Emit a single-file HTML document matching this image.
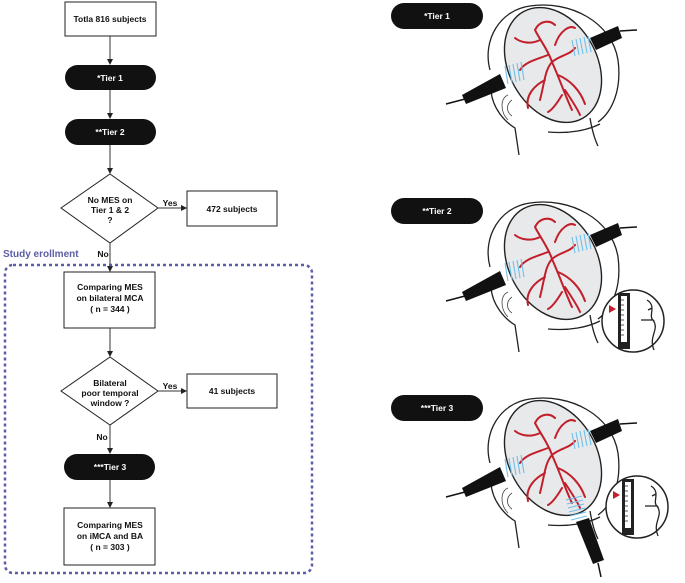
<!DOCTYPE html>
<html><head><meta charset="utf-8"><style>
body{margin:0;background:#fff}
svg text{font-family:"Liberation Sans",sans-serif;font-weight:bold}
</style></head><body>
<svg width="685" height="578" viewBox="0 0 685 578" xmlns="http://www.w3.org/2000/svg">
<defs>
<marker id="a" markerWidth="6" markerHeight="6" refX="5" refY="3" orient="auto"><path d="M0,0L6,3L0,6z" fill="#222"/></marker>
<g id="head">
 <path d="M490,70 C482,40 500,10 530,6 C570,0 612,22 618,60 C622,90 612,112 598,122" fill="none" stroke="#222" stroke-width="1.3"/>
 <path d="M491,90 C492,108 505,122 515,128 L519,155" fill="none" stroke="#222" stroke-width="1.3"/>
 <path d="M590,118 C592,130 594,138 598,146" fill="none" stroke="#222" stroke-width="1.3"/>
 <path d="M548,132 C570,134 588,130 600,124" fill="none" stroke="#222" stroke-width="1.3"/>
 <path d="M508,95 C500,98 500,112 508,120 M512,100 C506,104 506,112 512,116" fill="none" stroke="#444" stroke-width="0.8"/>
 <ellipse cx="553" cy="65" rx="44" ry="61" transform="rotate(-29 553 65)" fill="#e8e9eb" stroke="#222" stroke-width="1.4"/>
 <g fill="none" stroke="#c21f2a" stroke-width="2" stroke-linecap="round">
  <path d="M540,100 C545,80 545,70 552,62 C560,55 570,55 575,48 M552,62 C548,50 540,40 535,30 M552,62 C560,80 565,95 572,110 M545,80 C535,85 525,95 528,108 M558,75 C570,80 580,90 585,104 M540,40 C530,45 520,42 515,38 M555,45 C560,30 570,25 575,28 M535,30 C540,20 550,20 555,25 M548,55 C535,60 525,62 520,70 M565,90 C575,105 578,110 580,115 M562,95 C556,105 552,110 548,112"/>
 </g>
 <g fill="none" stroke="#6fc0ea" stroke-width="1.1">
  <path d="M505,66 l3,18 M509,65 l3,18 M513,64 l3,18 M517,63 l3,18 M521,62 l3,18"/>
  <path d="M572,40 l3,16 M576,39 l3,16 M580,38 l3,16 M584,37 l3,16 M588,36 l3,16"/>
 </g>
 <path d="M462,95 L500,74 L506,88 L466,104z" fill="#111"/>
 <path d="M590,38 L618,26 L622,38 L596,50z" fill="#111"/>
 <path d="M465,99 L446,104 M620,31 L637,30" stroke="#111" stroke-width="1.5" fill="none"/>
</g>
<g id="inset">
 <circle cx="633" cy="321" r="31" fill="#fff" stroke="#222" stroke-width="1.5"/>
 <rect x="618" y="293" width="12" height="56" fill="#222"/>
 <rect x="621" y="296" width="6" height="46" fill="#fff"/>
 <path d="M621,300h3M621,305h3M621,310h3M621,315h3M621,320h3M621,325h3M621,330h3M621,335h3" stroke="#222" stroke-width="0.7"/>
 <path d="M609,305 l7,4 l-7,4z" fill="#c21f2a"/>
 <path d="M647,300 C657,306 648,316 653,320 L641,320 M653,320 C660,330 648,336 654,350 M648,310 l4,-2" fill="none" stroke="#222" stroke-width="1.3"/>
</g>
</defs>

<g stroke="#222" stroke-width="1" fill="#fff">
 <rect x="65" y="2" width="91" height="34"/>
 <rect x="187" y="191" width="90" height="35"/>
 <rect x="64" y="272" width="91" height="56"/>
 <rect x="187" y="374" width="90" height="34"/>
 <rect x="64" y="508" width="91" height="57"/>
 <polygon points="110,174 158,208 110,243 61,208"/>
 <polygon points="110,357 158,391 110,425 61,391"/>
</g>
<g fill="#111">
 <rect x="65" y="65" width="91" height="25" rx="12.5"/>
 <rect x="65" y="119" width="91" height="26" rx="13"/>
 <rect x="64" y="454" width="91" height="26" rx="13"/>
 <rect x="391" y="3" width="92" height="26" rx="13"/>
 <rect x="391" y="198" width="92" height="26" rx="13"/>
 <rect x="391" y="395" width="92" height="26" rx="13"/>
</g>
<g stroke="#333" stroke-width="1" marker-end="url(#a)" fill="none">
 <line x1="110" y1="36" x2="110" y2="64"/>
 <line x1="110" y1="90" x2="110" y2="118"/>
 <line x1="110" y1="145" x2="110" y2="173"/>
 <line x1="158" y1="208" x2="186" y2="208"/>
 <line x1="110" y1="243" x2="110" y2="271"/>
 <line x1="110" y1="328" x2="110" y2="356"/>
 <line x1="158" y1="391" x2="186" y2="391"/>
 <line x1="110" y1="425" x2="110" y2="453"/>
 <line x1="110" y1="480" x2="110" y2="507"/>
</g>
<rect x="5" y="265" width="307" height="308" rx="8" fill="none" stroke="#5b5ea6" stroke-width="2.5" stroke-dasharray="3,3"/>
<g font-size="8.5" text-anchor="middle" fill="#111">
 <text x="110" y="22">Totla 816 subjects</text>
 <text x="232" y="212">472 subjects</text>
 <text x="232" y="394">41 subjects</text>
 <text x="110" y="203">No MES on</text><text x="110" y="213">Tier 1 &amp; 2</text><text x="110" y="223">?</text>
 <text x="110" y="386">Bilateral</text><text x="110" y="396">poor temporal</text><text x="110" y="406">window ?</text>
 <text x="110" y="290">Comparing MES</text><text x="110" y="301">on bilateral MCA</text><text x="110" y="312">( n = 344 )</text>
 <text x="110" y="528">Comparing MES</text><text x="110" y="539">on iMCA and BA</text><text x="110" y="550">( n = 303 )</text>
 <text x="170" y="206" font-weight="normal">Yes</text>
 <text x="170" y="389" font-weight="normal">Yes</text>
 <text x="103" y="257" font-weight="normal">No</text>
 <text x="102" y="440" font-weight="normal">No</text>
</g>
<g font-size="8.5" text-anchor="middle" fill="#fff" font-weight="normal">
 <text x="110" y="81">*Tier 1</text>
 <text x="110" y="135">**Tier 2</text>
 <text x="110" y="470">***Tier 3</text>
 <text x="437" y="19">*Tier 1</text>
 <text x="437" y="214">**Tier 2</text>
 <text x="437" y="411">***Tier 3</text>
</g>
<text x="3" y="257" font-size="10" fill="#5b5ea6">Study erollment</text>

<use href="#head"/>
<use href="#head" transform="translate(0,197)"/>
<use href="#inset"/>
<use href="#head" transform="translate(0,393)"/>
<use href="#inset" transform="translate(4,186)"/>
<g fill="none" stroke="#6fc0ea" stroke-width="1.1">
 <path d="M566,500 l16,-4 M567,504 l16,-4 M568,508 l16,-4 M569,512 l16,-4 M570,516 l16,-4 M571,520 l16,-4"/>
</g>
<path d="M576,522 L589,518 L604,560 L593,564z" fill="#111"/>
<path d="M598,563 L601,577" stroke="#111" stroke-width="1.5"/>
</svg>
</body></html>
